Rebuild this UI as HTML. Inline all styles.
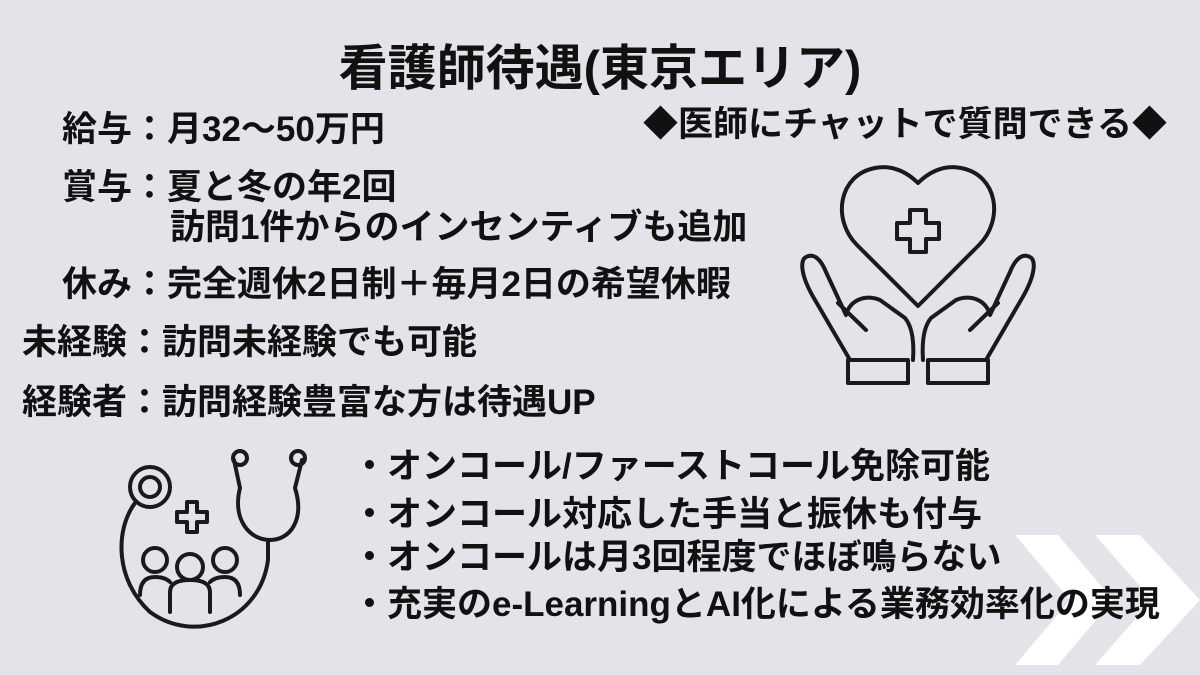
<!DOCTYPE html>
<html><head><meta charset="utf-8"><style>
body{margin:0}
.p{position:relative;width:1200px;height:675px;background:#e3e3ea;overflow:hidden;font-family:"Liberation Sans","Noto Sans CJK JP",sans-serif;font-weight:bold;color:#111}
.t{position:absolute;white-space:nowrap;line-height:1}
.b{font-size:35px}
</style></head><body><div class="p">
<svg class="t" style="left:0;top:0" width="1200" height="675">
<polygon points="1015,535 1058,535 1113,600 1058,665 1015,665 1070,600" fill="#fff"/>
<polygon points="1095,535 1140,535 1200,600 1140,665 1095,665 1152,600" fill="#fff"/>
<g fill="none" stroke="#1a1a1a" stroke-width="4" stroke-linejoin="round" stroke-linecap="round">
<path d="M918,306 L857,245 C832,220 838,175 875,168 C895,164 910,175 918,183 C926,175 941,164 961,168 C998,175 1004,220 979,245 Z"/>
<path d="M910,210 h16 v13 h13 v16 h-13 v13 h-16 v-13 h-13 v-16 h13 z"/>
<path d="M850,360 L815,300 C800,275 800,260 806,257 C815,252 822,262 826,272 L846,315 C850,300 865,294 880,300 L905,318 Q915,330 913,360 M866,330 L838,303"/>
<path d="M986,360 L1021,300 C1036,275 1036,260 1030,257 C1021,252 1014,262 1010,272 L990,315 C986,300 971,294 956,300 L931,318 Q921,330 923,360 M970,330 L998,303"/>
<rect x="848" y="360" width="60" height="23"/><rect x="928" y="360" width="60" height="23"/>
<circle cx="150" cy="487" r="20"/><circle cx="150" cy="487" r="10"/>
<path d="M135,503 C115,530 115,580 150,612 C195,645 260,620 268,560 L268,540"/>
<path d="M234,460 L240,488 C232,520 250,540 270,540 C290,540 305,520 295,488 L302,460"/>
<circle cx="240" cy="458" r="7"/><circle cx="298" cy="458" r="7"/>
<path d="M177,512 h10 v-10 h10 v10 h10 v10 h-10 v10 h-10 v-10 h-10 z"/>
<circle cx="155" cy="560" r="12"/><circle cx="225" cy="560" r="12"/><circle cx="190" cy="567" r="13"/>
<path d="M170,612 v-20 q0,-12 20,-12 q20,0 20,12 v20 M140,595 q0,-18 15,-18 q10,0 15,5 M240,595 q0,-18 -15,-18 q-10,0 -15,5"/>
</g></svg>
<div class="t" style="left:0;width:1200px;text-align:center;top:45px;font-size:49px">看護師待遇(東京エリア)</div>
<div class="t b" style="left:643px;top:107px">◆医師にチャットで質問できる◆</div>
<div class="t b" style="left:62px;top:112px">給与：月32～50万円</div>
<div class="t b" style="left:62px;top:170px">賞与：夏と冬の年2回</div>
<div class="t b" style="left:170px;top:210px">訪問1件からのインセンティブも追加</div>
<div class="t b" style="left:62px;top:267px">休み：完全週休2日制＋毎月2日の希望休暇</div>
<div class="t b" style="left:22px;top:325px">未経験：訪問未経験でも可能</div>
<div class="t b" style="left:22px;top:385px">経験者：訪問経験豊富な方は待遇UP</div>
<div class="t b" style="left:352px;top:449px">・オンコール/ファーストコール免除可能</div>
<div class="t b" style="left:352px;top:497px">・オンコール対応した手当と振休も付与</div>
<div class="t b" style="left:352px;top:540px">・オンコールは月3回程度でほぼ鳴らない</div>
<div class="t b" style="left:352px;top:587px">・充実のe-LearningとAI化による業務効率化の実現</div>
</div></body></html>
